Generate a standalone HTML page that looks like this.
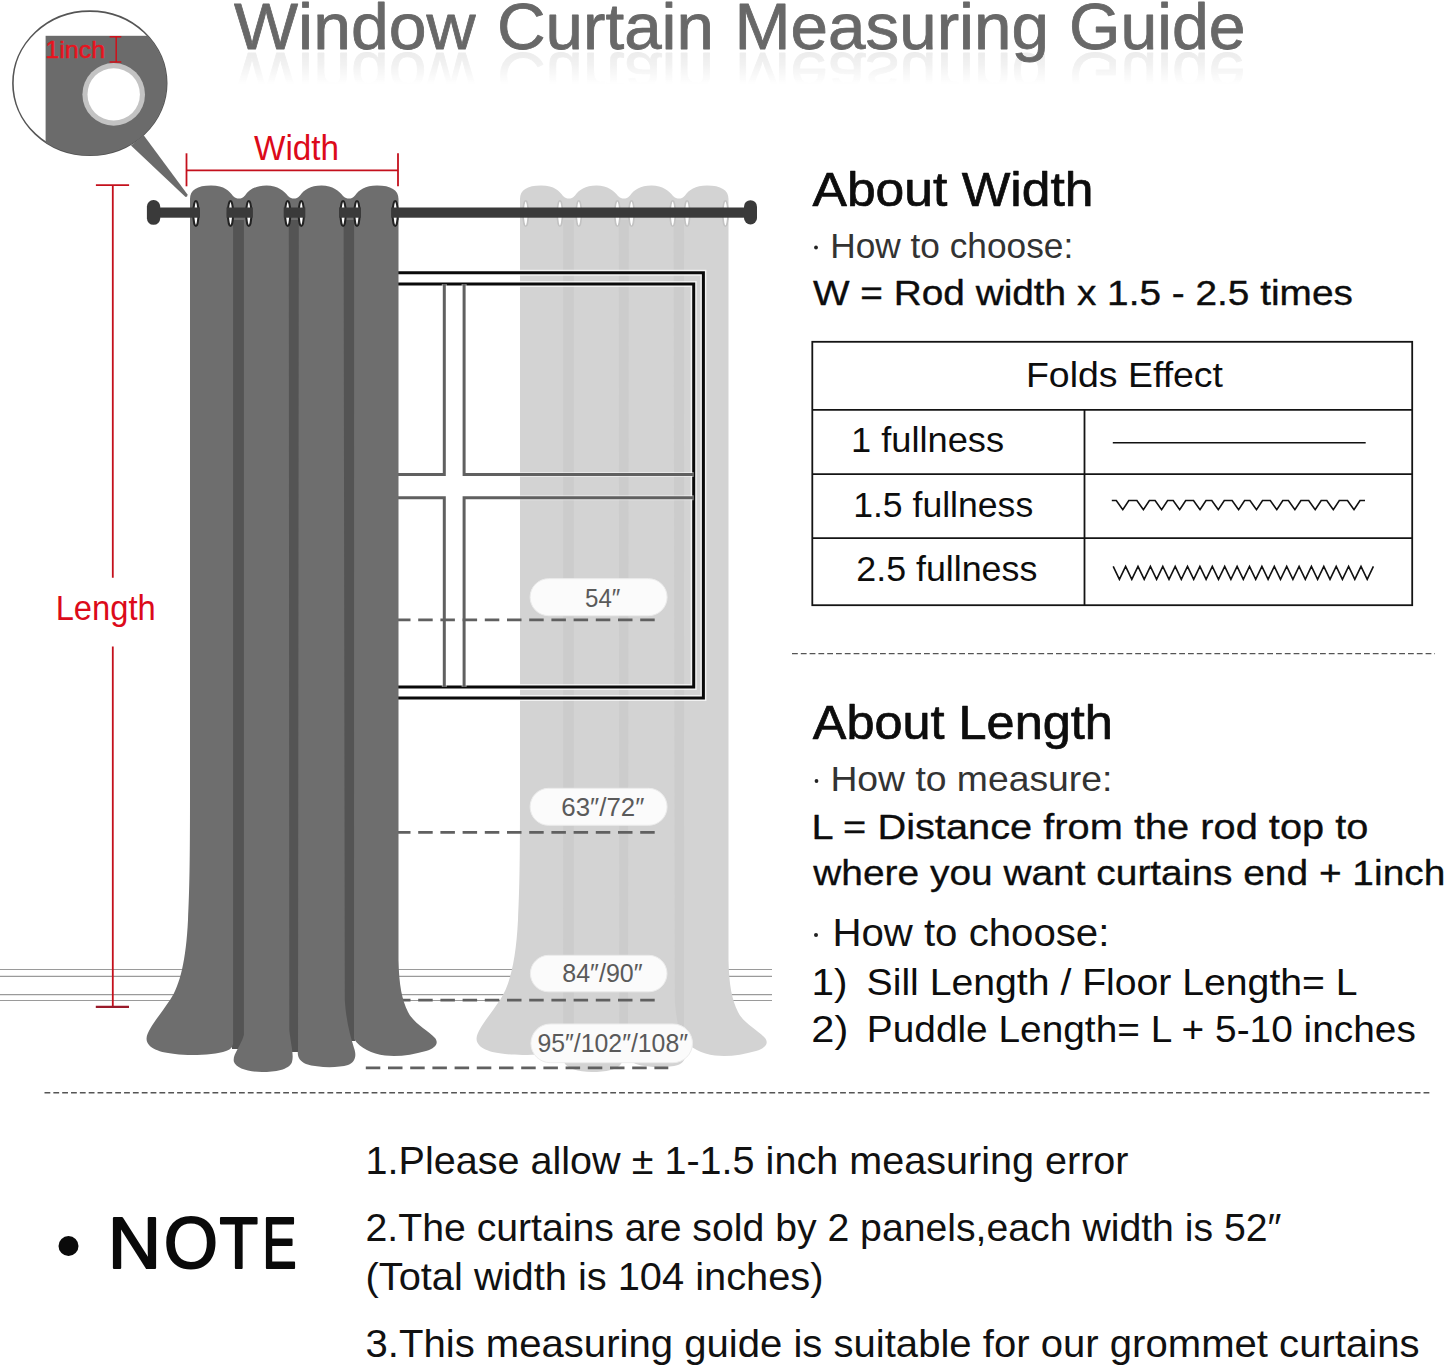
<!DOCTYPE html>
<html><head><meta charset="utf-8"><title>Window Curtain Measuring Guide</title>
<style>
html,body{margin:0;padding:0;background:#fff;}
body{width:1445px;height:1368px;overflow:hidden;}
svg{display:block;font-family:"Liberation Sans", sans-serif;}
</style></head><body>
<svg width="1445" height="1368" viewBox="0 0 1445 1368">
<defs>
<linearGradient id="reflg" x1="0" y1="0" x2="0" y2="1">
<stop offset="0" stop-color="#fff" stop-opacity="0.13"/>
<stop offset="0.35" stop-color="#fff" stop-opacity="0.09"/>
<stop offset="0.85" stop-color="#fff" stop-opacity="0"/>
</linearGradient>
<mask id="reflmask" maskUnits="userSpaceOnUse" x="0" y="0" width="1445" height="120"><rect x="0" y="50.5" width="1445" height="40" fill="url(#reflg)"/></mask>
<clipPath id="magclip"><ellipse cx="89.8" cy="83.2" rx="76.9" ry="72.1"/></clipPath>
</defs>
<rect width="1445" height="1368" fill="#fff"/>

<g mask="url(#reflmask)"><g transform="translate(0,101.5) scale(1,-1)">
<text x="234.0" y="48.6" font-size="65" fill="#686868" textLength="241.5" lengthAdjust="spacingAndGlyphs" stroke="#686868" stroke-width="0.8" stroke-linejoin="round" >Window</text>
<text x="497.0" y="48.6" font-size="65" fill="#686868" textLength="217.0" lengthAdjust="spacingAndGlyphs" stroke="#686868" stroke-width="0.8" stroke-linejoin="round" >Curtain</text>
<text x="734.5" y="48.6" font-size="65" fill="#686868" textLength="314.5" lengthAdjust="spacingAndGlyphs" stroke="#686868" stroke-width="0.8" stroke-linejoin="round" >Measuring</text>
<text x="1069.0" y="48.6" font-size="65" fill="#686868" textLength="176.5" lengthAdjust="spacingAndGlyphs" stroke="#686868" stroke-width="0.8" stroke-linejoin="round" >Guide</text>
</g></g>
<text x="234.0" y="48.6" font-size="65" fill="#686868" textLength="241.5" lengthAdjust="spacingAndGlyphs" stroke="#686868" stroke-width="0.8" stroke-linejoin="round" >Window</text>
<text x="497.0" y="48.6" font-size="65" fill="#686868" textLength="217.0" lengthAdjust="spacingAndGlyphs" stroke="#686868" stroke-width="0.8" stroke-linejoin="round" >Curtain</text>
<text x="734.5" y="48.6" font-size="65" fill="#686868" textLength="314.5" lengthAdjust="spacingAndGlyphs" stroke="#686868" stroke-width="0.8" stroke-linejoin="round" >Measuring</text>
<text x="1069.0" y="48.6" font-size="65" fill="#686868" textLength="176.5" lengthAdjust="spacingAndGlyphs" stroke="#686868" stroke-width="0.8" stroke-linejoin="round" >Guide</text>
<line x1="0" y1="969.5" x2="772" y2="969.5" stroke="#9a9a9a" stroke-width="1.2"/>
<line x1="0" y1="976.4" x2="772" y2="976.4" stroke="#9a9a9a" stroke-width="1.2"/>
<line x1="0" y1="994.7" x2="772" y2="994.7" stroke="#9a9a9a" stroke-width="1.2"/>
<line x1="0" y1="1000.5" x2="772" y2="1000.5" stroke="#9a9a9a" stroke-width="1.2"/>
<g transform="translate(330,0)">
<rect x="232" y="215" width="13.5" height="834" fill="#cccccc"/>
<rect x="287.5" y="215" width="12.5" height="837" fill="#cccccc"/>
<rect x="343" y="215" width="12" height="826" fill="#cccccc"/>
<path d="M190,232 L190,199 C190,190 197,185.5 211,185.5 C225,185.5 229,191 233,196 C235,198 237,198.5 238.8,198.5 C241,198.5 243,198 245,195.5 C249,190 255,185.5 266.5,185.5 C278,185.5 284,191 288,196 C290,198 292,198.5 293.8,198.5 C296,198.5 298,198 300,195.5 C304,190 310,185.5 321.5,185.5 C333,185.5 339,191 343,196 C345,198 347,198.5 349,198.5 C351,198.5 353,198 355,195.5 C359,190 365,185.5 377,185.5 C391,185.5 398.5,190 398.5,199 L398.5,220 L353.5,220 L344.5,220 L298.5,220 L289,220 L244,220 L233.5,220 L190,220 Z" fill="#d3d3d3"/>
<path d="M190,210 L233.1,210 L233.1,1040 C233.5,1046 232,1049 226,1051 C215,1055 190,1056 175,1054 C155,1052 146,1046 146.6,1038 C147,1030 160,1015 170,1000 C180,985 186,960 188,920 C189.5,890 190,860 190,800 Z" fill="#d3d3d3"/>
<path d="M243.9,210 L288.8,210 L289.3,1030 C291,1045 294,1055 292,1062 C289,1070 275,1072 262,1072 C248,1072 236,1068 234,1062 C232,1055 240,1048 243.9,1035 Z" fill="#d3d3d3"/>
<path d="M298.8,210 L343.6,210 L344.8,1000 C346,1020 350,1035 354,1048 C357,1056 355,1062 348,1065 C338,1068 318,1068 306,1064 C299,1061 297,1056 298,1050 Z" fill="#d3d3d3"/>
<path d="M354.1,210 L398.5,210 L398.5,960 C399,985 402,1000 408,1012 C414,1024 428,1030 435,1038 C439,1043 436,1048 426,1051 C412,1055 398,1057 385,1055.5 C372,1054 360,1048 354,1039 Z" fill="#d3d3d3"/>
</g>
<g fill="none">
<path d="M390,272.8 H703.4 V697.9 H390" stroke="#fff" stroke-width="6" opacity="0.7"/>
<path d="M390,284 H693.7 V687 H390" stroke="#fff" stroke-width="6" opacity="0.7"/>
<path d="M390,272.8 H703.4 V697.9 H390" stroke="#0a0a0a" stroke-width="3"/>
<path d="M390,284 H693.7 V687 H390" stroke="#0a0a0a" stroke-width="3"/>
<path d="M444.3,284 V474.6 H390" stroke="#fff" stroke-width="5" opacity="0.5"/>
<path d="M464.1,284 V474.6 H693.7" stroke="#fff" stroke-width="5" opacity="0.5"/>
<path d="M444.3,687 V497.7 H390" stroke="#fff" stroke-width="5" opacity="0.5"/>
<path d="M464.1,687 V497.7 H693.7" stroke="#fff" stroke-width="5" opacity="0.5"/>
<path d="M444.3,284 V474.6 H390" stroke="#606060" stroke-width="3"/>
<path d="M464.1,284 V474.6 H693.7" stroke="#606060" stroke-width="3"/>
<path d="M444.3,687 V497.7 H390" stroke="#606060" stroke-width="3"/>
<path d="M464.1,687 V497.7 H693.7" stroke="#606060" stroke-width="3"/>
</g>
<line x1="396" y1="619.8" x2="654.8" y2="619.8" stroke="#606060" stroke-width="2.8" stroke-dasharray="14.5 7.699999999999999"/>
<line x1="396" y1="832.3" x2="654.8" y2="832.3" stroke="#606060" stroke-width="2.8" stroke-dasharray="14.5 7.699999999999999"/>
<line x1="396" y1="1000.2" x2="654.8" y2="1000.2" stroke="#606060" stroke-width="2.8" stroke-dasharray="14.5 7.699999999999999"/>
<line x1="365.8" y1="1067.8" x2="668.3" y2="1067.8" stroke="#606060" stroke-width="2.8" stroke-dasharray="14.5 7.699999999999999"/>
<g transform="translate(0,0)">
<rect x="232" y="215" width="13.5" height="834" fill="#545454"/>
<rect x="287.5" y="215" width="12.5" height="837" fill="#545454"/>
<rect x="343" y="215" width="12" height="826" fill="#545454"/>
<path d="M190,232 L190,199 C190,190 197,185.5 211,185.5 C225,185.5 229,191 233,196 C235,198 237,198.5 238.8,198.5 C241,198.5 243,198 245,195.5 C249,190 255,185.5 266.5,185.5 C278,185.5 284,191 288,196 C290,198 292,198.5 293.8,198.5 C296,198.5 298,198 300,195.5 C304,190 310,185.5 321.5,185.5 C333,185.5 339,191 343,196 C345,198 347,198.5 349,198.5 C351,198.5 353,198 355,195.5 C359,190 365,185.5 377,185.5 C391,185.5 398.5,190 398.5,199 L398.5,220 L353.5,220 L344.5,220 L298.5,220 L289,220 L244,220 L233.5,220 L190,220 Z" fill="#6e6e6e"/>
<path d="M190,210 L233.1,210 L233.1,1040 C233.5,1046 232,1049 226,1051 C215,1055 190,1056 175,1054 C155,1052 146,1046 146.6,1038 C147,1030 160,1015 170,1000 C180,985 186,960 188,920 C189.5,890 190,860 190,800 Z" fill="#6e6e6e"/>
<path d="M243.9,210 L288.8,210 L289.3,1030 C291,1045 294,1055 292,1062 C289,1070 275,1072 262,1072 C248,1072 236,1068 234,1062 C232,1055 240,1048 243.9,1035 Z" fill="#6e6e6e"/>
<path d="M298.8,210 L343.6,210 L344.8,1000 C346,1020 350,1035 354,1048 C357,1056 355,1062 348,1065 C338,1068 318,1068 306,1064 C299,1061 297,1056 298,1050 Z" fill="#6e6e6e"/>
<path d="M354.1,210 L398.5,210 L398.5,960 C399,985 402,1000 408,1012 C414,1024 428,1030 435,1038 C439,1043 436,1048 426,1051 C412,1055 398,1057 385,1055.5 C372,1054 360,1048 354,1039 Z" fill="#6e6e6e"/>
</g>
<ellipse cx="525.7" cy="213.5" rx="2.6" ry="12.8" fill="#fff" stroke="#c2c2c2" stroke-width="1.6"/>
<ellipse cx="559.9" cy="213.5" rx="2.6" ry="12.8" fill="#fff" stroke="#c2c2c2" stroke-width="1.6"/>
<ellipse cx="578.8" cy="213.5" rx="2.6" ry="12.8" fill="#fff" stroke="#c2c2c2" stroke-width="1.6"/>
<ellipse cx="617.4" cy="213.5" rx="2.6" ry="12.8" fill="#fff" stroke="#c2c2c2" stroke-width="1.6"/>
<ellipse cx="631.5" cy="213.5" rx="2.6" ry="12.8" fill="#fff" stroke="#c2c2c2" stroke-width="1.6"/>
<ellipse cx="672.7" cy="213.5" rx="2.6" ry="12.8" fill="#fff" stroke="#c2c2c2" stroke-width="1.6"/>
<ellipse cx="687.1" cy="213.5" rx="2.6" ry="12.8" fill="#fff" stroke="#c2c2c2" stroke-width="1.6"/>
<ellipse cx="725.4" cy="213.5" rx="2.6" ry="12.8" fill="#fff" stroke="#c2c2c2" stroke-width="1.6"/>
<ellipse cx="195.9" cy="213.5" rx="2.6" ry="12.6" fill="#fff" stroke="#222" stroke-width="2"/>
<ellipse cx="230.5" cy="213.5" rx="2.6" ry="12.6" fill="#fff" stroke="#222" stroke-width="2"/>
<ellipse cx="248.8" cy="213.5" rx="2.6" ry="12.6" fill="#fff" stroke="#222" stroke-width="2"/>
<ellipse cx="287.7" cy="213.5" rx="2.6" ry="12.6" fill="#fff" stroke="#222" stroke-width="2"/>
<ellipse cx="301.3" cy="213.5" rx="2.6" ry="12.6" fill="#fff" stroke="#222" stroke-width="2"/>
<ellipse cx="343.1" cy="213.5" rx="2.6" ry="12.6" fill="#fff" stroke="#222" stroke-width="2"/>
<ellipse cx="357" cy="213.5" rx="2.6" ry="12.6" fill="#fff" stroke="#222" stroke-width="2"/>
<ellipse cx="395.2" cy="213.5" rx="2.6" ry="12.6" fill="#fff" stroke="#222" stroke-width="2"/>
<rect x="155" y="207.5" width="45" height="10.2" fill="#3a3a3a"/>
<rect x="226.5" y="207.5" width="26.30000000000001" height="10.2" fill="#3a3a3a"/>
<rect x="283.7" y="207.5" width="21.600000000000023" height="10.2" fill="#3a3a3a"/>
<rect x="339" y="207.5" width="22" height="10.2" fill="#3a3a3a"/>
<rect x="391.2" y="207.5" width="358.8" height="10.2" fill="#3a3a3a"/>
<rect x="146.9" y="200" width="13.3" height="24.8" rx="6.5" ry="6.5" fill="#3a3a3a"/>
<rect x="744" y="200.2" width="13" height="24.3" rx="6.5" ry="6.5" fill="#3a3a3a"/>
<ellipse cx="89.8" cy="83.2" rx="76.9" ry="72.1" fill="#fff" stroke="#555" stroke-width="1.6"/>
<g clip-path="url(#magclip)"><rect x="45.6" y="35.8" width="140" height="140" fill="#6b6b6b"/></g>
<path d="M131,145.5 L143.5,135 L187.5,194.5 Q187.8,197.3 185.3,196.8 Z" fill="#6b6b6b"/>
<circle cx="113.7" cy="94.4" r="31.3" fill="#c3c3c3"/>
<circle cx="113.7" cy="94.4" r="26.2" fill="#fff"/>
<text x="45.3" y="58.3" font-size="24.3" fill="#e8141e" textLength="59.8" lengthAdjust="spacingAndGlyphs" stroke="#e8141e" stroke-width="0.45" stroke-linejoin="round" >1inch</text>
<g stroke="#d0101a" stroke-width="1.5"><line x1="116.2" y1="36.5" x2="116.2" y2="62"/><line x1="109.6" y1="36.8" x2="121.3" y2="36.8"/><line x1="109.6" y1="62" x2="121.3" y2="62"/></g>
<g stroke="#c4101c" stroke-width="1.8">
<line x1="186.5" y1="170.4" x2="398" y2="170.4"/>
<line x1="186.5" y1="153.3" x2="186.5" y2="186.3"/>
<line x1="398" y1="153.3" x2="398" y2="186.3"/>
<line x1="112.8" y1="185.2" x2="112.8" y2="577.7"/>
<line x1="112.8" y1="646.4" x2="112.8" y2="1006.9"/>
<line x1="95.9" y1="185.2" x2="129.1" y2="185.2"/>
</g>
<line x1="95.8" y1="1006.9" x2="129" y2="1006.9" stroke="#9a1a2a" stroke-width="2.4"/>
<text x="254.0" y="159.7" font-size="35" fill="#dc0a1a" textLength="85.0" lengthAdjust="spacingAndGlyphs" >Width</text>
<text x="55.7" y="620.4" font-size="35.5" fill="#dc0a1a" textLength="100.0" lengthAdjust="spacingAndGlyphs" >Length</text>
<rect x="530.1" y="578.7" width="137.0" height="37.0" rx="18.5" ry="18.5" fill="#fbfbfb" stroke="#ececec" stroke-width="1"/>
<text x="585.1" y="607" font-size="25" fill="#5a5a5a" textLength="35.299999999999955" lengthAdjust="spacingAndGlyphs" >54″</text>
<rect x="530.1" y="788.3" width="137.0" height="37.0" rx="18.5" ry="18.5" fill="#fbfbfb" stroke="#ececec" stroke-width="1"/>
<text x="561.3" y="816.3" font-size="25" fill="#5a5a5a" textLength="83.0" lengthAdjust="spacingAndGlyphs" >63″/72″</text>
<rect x="530.4" y="955.3" width="136.60000000000002" height="36.5" rx="18.25" ry="18.25" fill="#fbfbfb" stroke="#ececec" stroke-width="1"/>
<text x="562.3" y="982.3" font-size="25" fill="#5a5a5a" textLength="80.30000000000007" lengthAdjust="spacingAndGlyphs" >84″/90″</text>
<rect x="530.9" y="1024" width="161.60000000000002" height="38.700000000000045" rx="19.350000000000023" ry="19.350000000000023" fill="#fbfbfb" stroke="#ececec" stroke-width="1"/>
<text x="537.5" y="1052.3" font-size="25" fill="#5a5a5a" textLength="150.5" lengthAdjust="spacingAndGlyphs" >95″/102″/108″</text>
<text x="812.5" y="206.1" font-size="48.8" fill="#0d0d0d" textLength="281.0" lengthAdjust="spacingAndGlyphs" stroke="#0d0d0d" stroke-width="0.7" stroke-linejoin="round" >About Width</text>
<circle cx="816" cy="247.5" r="1.9" fill="#222"/>
<text x="830.2" y="257.6" font-size="34.7" fill="#333" textLength="243.0" lengthAdjust="spacingAndGlyphs" >How to choose:</text>
<text x="812.9" y="304.8" font-size="35.4" fill="#0d0d0d" textLength="540.0" lengthAdjust="spacingAndGlyphs" stroke="#0d0d0d" stroke-width="0.35" stroke-linejoin="round" >W = Rod width x 1.5 - 2.5 times</text>
<g stroke="#141414" stroke-width="1.8" fill="none">
<rect x="812.3" y="341.8" width="599.9" height="263.4"/>
<line x1="812.3" y1="409.8" x2="1412.2" y2="409.8"/>
<line x1="812.3" y1="474.1" x2="1412.2" y2="474.1"/>
<line x1="812.3" y1="538.1" x2="1412.2" y2="538.1"/>
<line x1="1084.5" y1="409.8" x2="1084.5" y2="605.2"/>
</g>
<text x="1026.0" y="387.2" font-size="35.8" fill="#0d0d0d" textLength="197.0" lengthAdjust="spacingAndGlyphs" >Folds Effect</text>
<text x="851.0" y="451.9" font-size="35.5" fill="#0d0d0d" textLength="153.0" lengthAdjust="spacingAndGlyphs" >1 fullness</text>
<text x="853.2" y="516.6" font-size="35.5" fill="#0d0d0d" textLength="180.0" lengthAdjust="spacingAndGlyphs" >1.5 fullness</text>
<text x="856.3" y="580.6" font-size="35.5" fill="#0d0d0d" textLength="181.0" lengthAdjust="spacingAndGlyphs" >2.5 fullness</text>
<line x1="1112.8" y1="442.8" x2="1365.7" y2="442.8" stroke="#111" stroke-width="1.6"/>
<path d="M1111.8,500.5 L1116.3,500.5 L1122.8,509.7 L1128.8,500.5 L1136.9,500.5 L1143.4,509.7 L1149.4,500.5 L1155.1,500.5 L1161.6,509.7 L1167.6,500.5 L1173.2,500.5 L1179.7,509.7 L1185.7,500.5 L1193.5,500.5 L1200.0,509.7 L1206.0,500.5 L1211.8,500.5 L1218.3,509.7 L1224.3,500.5 L1232.1,500.5 L1238.6,509.7 L1244.6,500.5 L1250.0,500.5 L1256.5,509.7 L1262.5,500.5 L1270.3,500.5 L1276.8,509.7 L1282.8,500.5 L1288.4,500.5 L1294.9,509.7 L1300.9,500.5 L1308.7,500.5 L1315.2,509.7 L1321.2,500.5 L1326.8,500.5 L1333.3,509.7 L1339.3,500.5 L1347.5,500.5 L1354.0,509.7 L1360.0,500.5 L1365,500.5" fill="none" stroke="#111" stroke-width="1.6" stroke-linejoin="miter"/>
<path d="M1113.2,566.4 L1119.4,579.4 L1125.6,566.4 L1131.8,579.4 L1138.0,566.4 L1144.2,579.4 L1150.4,566.4 L1156.6,579.4 L1162.8,566.4 L1169.0,579.4 L1175.2,566.4 L1181.3,579.4 L1187.5,566.4 L1193.7,579.4 L1199.9,566.4 L1206.1,579.4 L1212.3,566.4 L1218.5,579.4 L1224.7,566.4 L1230.9,579.4 L1237.1,566.4 L1243.3,579.4 L1249.5,566.4 L1255.7,579.4 L1261.9,566.4 L1268.1,579.4 L1274.3,566.4 L1280.5,579.4 L1286.7,566.4 L1292.9,579.4 L1299.1,566.4 L1305.3,579.4 L1311.4,566.4 L1317.6,579.4 L1323.8,566.4 L1330.0,579.4 L1336.2,566.4 L1342.4,579.4 L1348.6,566.4 L1354.8,579.4 L1361.0,566.4 L1367.2,579.4 L1373.4,566.4" fill="none" stroke="#111" stroke-width="1.6"/>
<line x1="792" y1="653.6" x2="1435" y2="653.6" stroke="#555" stroke-width="1.4" stroke-dasharray="5.8 3"/>
<text x="812.8" y="739.3" font-size="48.1" fill="#0d0d0d" textLength="300.0" lengthAdjust="spacingAndGlyphs" stroke="#0d0d0d" stroke-width="0.7" stroke-linejoin="round" >About Length</text>
<circle cx="816.5" cy="781" r="1.9" fill="#222"/>
<text x="830.4" y="791.2" font-size="35.6" fill="#333" textLength="282.0" lengthAdjust="spacingAndGlyphs" >How to measure:</text>
<text x="811.4" y="838.5" font-size="35.3" fill="#0d0d0d" textLength="557.0" lengthAdjust="spacingAndGlyphs" stroke="#0d0d0d" stroke-width="0.3" stroke-linejoin="round" >L = Distance from the rod top to</text>
<text x="813.3" y="885" font-size="35.3" fill="#0d0d0d" textLength="632.0" lengthAdjust="spacingAndGlyphs" stroke="#0d0d0d" stroke-width="0.3" stroke-linejoin="round" >where you want curtains end + 1inch</text>
<circle cx="816" cy="935" r="2" fill="#222"/>
<text x="832.4" y="946.1" font-size="38.5" fill="#111" textLength="277.0" lengthAdjust="spacingAndGlyphs" >How to choose:</text>
<text x="811.4" y="995.2" font-size="37.4" fill="#0d0d0d" textLength="36.0" lengthAdjust="spacingAndGlyphs" >1)</text>
<text x="866.6" y="995.2" font-size="37.4" fill="#0d0d0d" textLength="491.0" lengthAdjust="spacingAndGlyphs" >Sill Length / Floor Length= L</text>
<text x="811.3" y="1042.3" font-size="37.4" fill="#0d0d0d" textLength="37.0" lengthAdjust="spacingAndGlyphs" >2)</text>
<text x="866.8" y="1042.3" font-size="37.4" fill="#0d0d0d" textLength="549.0" lengthAdjust="spacingAndGlyphs" >Puddle Length= L + 5-10 inches</text>
<line x1="44.5" y1="1092.8" x2="1432" y2="1092.8" stroke="#555" stroke-width="1.4" stroke-dasharray="5.8 3.04"/>
<circle cx="68.5" cy="1246" r="10" fill="#0a0a0a"/>
<text x="107.9" y="1267.8" font-size="73" fill="#0a0a0a" textLength="53.0" lengthAdjust="spacingAndGlyphs" stroke="#0a0a0a" stroke-width="2.2" stroke-linejoin="round" >N</text>
<text x="164.0" y="1267.8" font-size="73" fill="#0a0a0a" textLength="53.8" lengthAdjust="spacingAndGlyphs" stroke="#0a0a0a" stroke-width="2.2" stroke-linejoin="round" >O</text>
<text x="219.4" y="1267.8" font-size="73" fill="#0a0a0a" textLength="38.6" lengthAdjust="spacingAndGlyphs" stroke="#0a0a0a" stroke-width="2.2" stroke-linejoin="round" >T</text>
<text x="262.6" y="1267.8" font-size="73" fill="#0a0a0a" textLength="34.0" lengthAdjust="spacingAndGlyphs" stroke="#0a0a0a" stroke-width="2.2" stroke-linejoin="round" >E</text>
<text x="365.5" y="1174.1" font-size="38.7" fill="#111" textLength="763.0" lengthAdjust="spacingAndGlyphs" >1.Please allow ± 1-1.5 inch measuring error</text>
<text x="365.5" y="1240.9" font-size="38.7" fill="#111" textLength="916.0" lengthAdjust="spacingAndGlyphs" >2.The curtains are sold by 2 panels,each width is 52″</text>
<text x="365.5" y="1290" font-size="38.7" fill="#111" textLength="458.0" lengthAdjust="spacingAndGlyphs" >(Total width is 104 inches)</text>
<text x="365.5" y="1356.8" font-size="38.7" fill="#111" textLength="1054.0" lengthAdjust="spacingAndGlyphs" >3.This measuring guide is suitable for our grommet curtains</text>
</svg></body></html>
